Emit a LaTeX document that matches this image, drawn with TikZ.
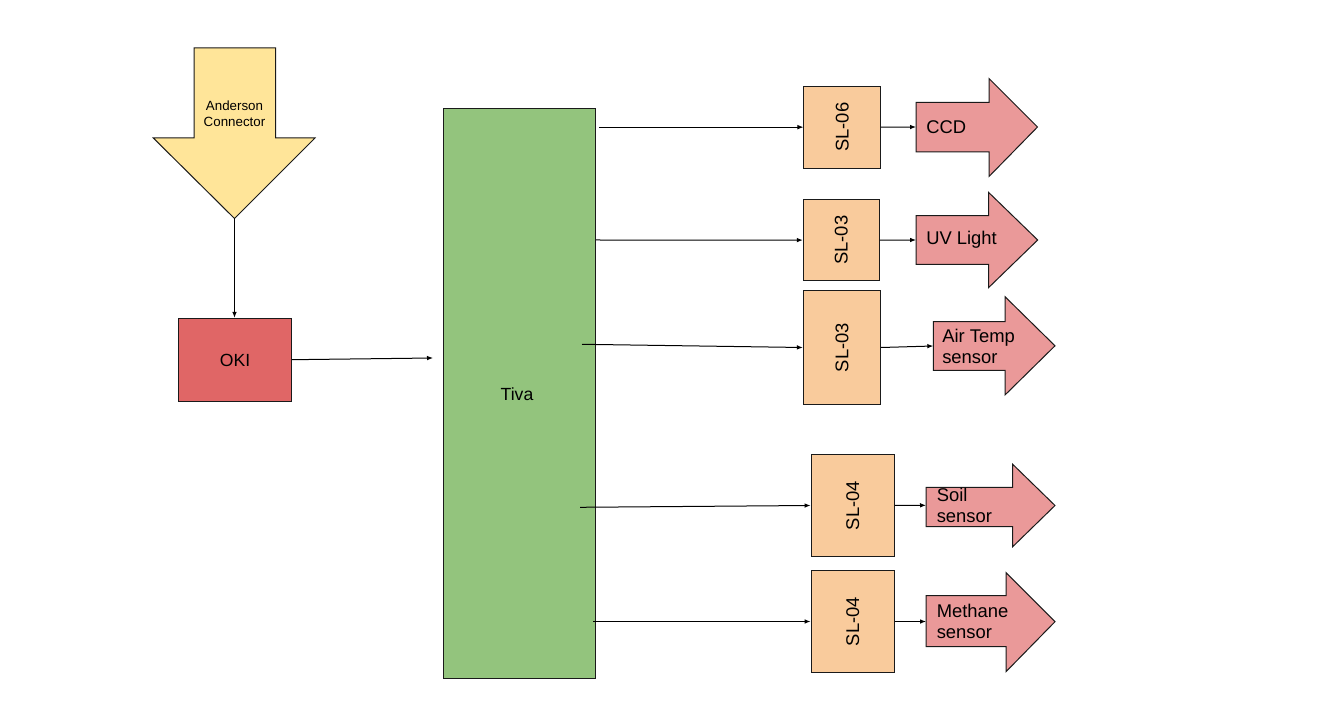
\documentclass[tikz,border=0pt]{standalone}
\usepackage{fontspec}
\setmainfont{Liberation Sans}
\usetikzlibrary{arrows.meta}
\definecolor{ayellow}{HTML}{FFE599}
\definecolor{okired}{HTML}{E06666}
\definecolor{tivagreen}{HTML}{93C47D}
\definecolor{slorange}{HTML}{F9CB9C}
\definecolor{senred}{HTML}{EA9999}
\definecolor{edge}{HTML}{1A1A1A}
\begin{document}
\begin{tikzpicture}[x=0.75pt,y=-0.75pt,
  shapebox/.style={draw=edge,line width=0.75pt,inner sep=0pt},
  slbox/.style={shapebox,fill=slorange},
  sltext/.style={rotate=90,font=\fontsize{13.8}{15}\selectfont},
  bigtext/.style={font=\fontsize{13.2}{15.75}\selectfont},
  sentext/.style={anchor=west,inner sep=0pt,align=left,font=\fontsize{13.8}{15.75}\selectfont},
  senarrow/.style={draw=edge,line width=0.75pt,fill=senred,line join=miter},
  conn/.style={draw=black,line width=0.75pt,-{Latex[length=4.5pt,width=3.5pt]}}]
\useasboundingbox (0,0) rectangle (1322,727);

% Anderson connector
\draw[senarrow,fill=ayellow] (194,48) -- (275.5,48) -- (275.5,138) -- (315,138) -- (234.5,218.5) -- (153.3,138) -- (194,138) -- cycle;
\coordinate (andtip) at (234.5,218.5);
\node[align=center,inner sep=0pt,font=\fontsize{10}{12}\selectfont] (andtext) at (234.5,114) {Anderson\\Connector};

% OKI
\node[shapebox,fill=okired,minimum width=85pt,minimum height=62pt] (oki) at (235,359.7) {};
\node[bigtext] (okitext) at (235,360) {OKI};

% Tiva
\node[shapebox,fill=tivagreen,minimum width=114pt,minimum height=426.75pt] (tiva) at (519,393.5) {};
\node[bigtext] (tivatext) at (517,394) {Tiva};

% SL boxes
\node[slbox,minimum width=57.4pt,minimum height=61.7pt] (sl6) at (842.25,127.15) {};
\node[sltext] at (sl6) {SL-06};
\node[slbox,minimum width=57pt,minimum height=61.3pt] (sl3a) at (841.3,240.1) {};
\node[sltext] at (sl3a) {SL-03};
\node[slbox,minimum width=58pt,minimum height=85.2pt] (sl3b) at (842,347.5) {};
\node[sltext] at (sl3b) {SL-03};
\node[slbox,minimum width=62.5pt,minimum height=76.8pt] (sl4a) at (852.7,505.5) {};
\node[sltext] at (sl4a) {SL-04};
\node[slbox,minimum width=62.5pt,minimum height=76.2pt] (sl4b) at (852.7,621.5) {};
\node[sltext] at (sl4b) {SL-04};

% sensor arrows
\draw[senarrow] (916,102.3) -- (989,102.3) -- (989,78.5) -- (1037.5,127) -- (989,176.5) -- (989,152) -- (916,152) -- cycle;
\coordinate (ccd) at (916,127);
\node[sentext] (ccdtext) at (926,127) {CCD};

\draw[senarrow] (916,215.7) -- (988.5,215.7) -- (988.5,192.3) -- (1037.7,240) -- (988.5,287.7) -- (988.5,264.3) -- (916,264.3) -- cycle;
\coordinate (uv) at (916,240);
\node[sentext] (uvtext) at (926,240) {UV Light};

\draw[senarrow] (933.3,321.7) -- (1005,321.7) -- (1005,296.7) -- (1055,345.8) -- (1005,395) -- (1005,370.3) -- (933.3,370.3) -- cycle;
\coordinate (air) at (933.3,346);
\node[sentext] (airtext) at (942,346.5) {Air Temp\\sensor};

\draw[senarrow] (926,487.3) -- (1012.7,487.3) -- (1012.7,464.3) -- (1055,505.5) -- (1012.7,546.7) -- (1012.7,526.7) -- (926,526.7) -- cycle;
\coordinate (soil) at (926,505.3);
\node[sentext] (soiltext) at (936.5,505.5) {Soil\\sensor};

\draw[senarrow] (926,595.7) -- (1006,595.7) -- (1006,572.7) -- (1055,621.7) -- (1006,671.7) -- (1006,646.7) -- (926,646.7) -- cycle;
\coordinate (meth) at (926,621.5);
\node[sentext] (methtext) at (936.5,621.7) {Methane\\sensor};

% connectors
\draw[conn] (andtip) -- (andtip |- oki.north);
\coordinate (tivain) at (433,358);
\draw[conn] (oki.east) -- (tivain);

\coordinate (t1) at (599,127.15);
\coordinate (t2) at (596,240);
\coordinate (t3) at (582,344.3);
\coordinate (t4) at (580,507.3);
\coordinate (t5) at (593,621.5);
\draw[conn] (t1) -- (sl6.west);
\draw[conn] (t2) -- (sl3a.west);
\draw[conn] (t3) -- (sl3b.west);
\draw[conn] (t4) -- (sl4a.west);
\draw[conn] (t5) -- (sl4b.west);

\draw[conn] (sl6.east) -- (ccd);
\draw[conn] (sl3a.east) -- (uv);
\draw[conn] (sl3b.east) -- (air);
\draw[conn] (sl4a.east) -- (soil);
\draw[conn] (sl4b.east) -- (meth);
\end{tikzpicture}
\end{document}
